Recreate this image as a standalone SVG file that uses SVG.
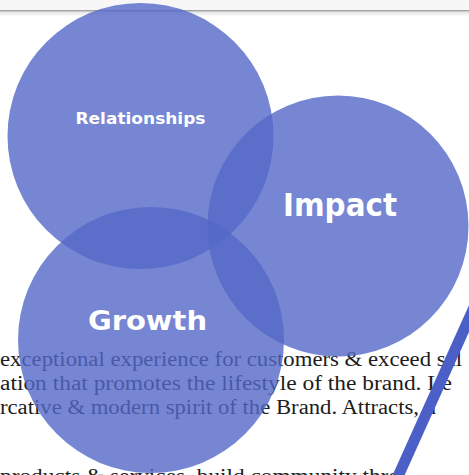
<svg xmlns="http://www.w3.org/2000/svg" width="469" height="475" viewBox="0 0 469 475">
  <defs>
    <linearGradient id="shadow" x1="0" y1="0" x2="0" y2="1">
      <stop offset="0" stop-color="#e2e2e2"/>
      <stop offset="1" stop-color="#ffffff"/>
    </linearGradient>
    <style>
      .page { font-family: "Liberation Serif", "DejaVu Serif", serif; font-size: 20px; fill: #1c1c1c; }
      .bubble { fill: #5468c8; fill-opacity: 0.8; }
      .label { font-family: "DejaVu Sans", "Open Sans", sans-serif; font-weight: bold; fill: #ffffff; text-anchor: middle; }
      .slash { stroke: #4c5fc7; stroke-width: 11; fill: none; }
    </style>
  </defs>

  <!-- page background with header rule -->
  <rect x="0" y="0" width="469" height="475" fill="#ffffff"/>
  <rect x="0" y="0" width="469" height="10" fill="#f7f7f7"/>
  <rect x="0" y="11.5" width="469" height="5" fill="url(#shadow)"/>
  <line x1="0" y1="10.8" x2="469" y2="10.8" stroke="#a3a3a3" stroke-width="1.6"/>

  <!-- body copy behind the bubbles -->
  <g id="copy">
    <text class="page" x="0" y="366" textLength="462" lengthAdjust="spacingAndGlyphs">exceptional experience for customers &amp; exceed sal</text>
    <text class="page" x="0" y="390" textLength="452" lengthAdjust="spacingAndGlyphs">ation that promotes the lifestyle of the brand. Le</text>
    <text class="page" x="0" y="414" textLength="436" lengthAdjust="spacingAndGlyphs">rcative &amp; modern spirit of the Brand. Attracts, n</text>
    <text class="page" x="0" y="483" textLength="400" lengthAdjust="spacingAndGlyphs">products &amp; services, build community thro</text>
  </g>

  <!-- bubbles -->
  <g id="relationships">
    <circle class="bubble" cx="140.5" cy="136" r="133"/>
    <text class="label" x="140.5" y="124" font-size="15.5" textLength="130" lengthAdjust="spacingAndGlyphs">Relationships</text>
  </g>
  <g id="impact">
    <circle class="bubble" cx="338" cy="226" r="130.5"/>
    <text class="label" x="340" y="216" font-size="32" textLength="114" lengthAdjust="spacingAndGlyphs">Impact</text>
  </g>
  <g id="growth">
    <circle class="bubble" cx="151" cy="340" r="133"/>
    <text class="label" x="147.5" y="330" font-size="27" textLength="119" lengthAdjust="spacingAndGlyphs">Growth</text>
  </g>

  <!-- decorative slash -->
  <g id="connectors">
    <line class="slash" x1="395.5" y1="482" x2="476" y2="303"/>
  </g>
</svg>
